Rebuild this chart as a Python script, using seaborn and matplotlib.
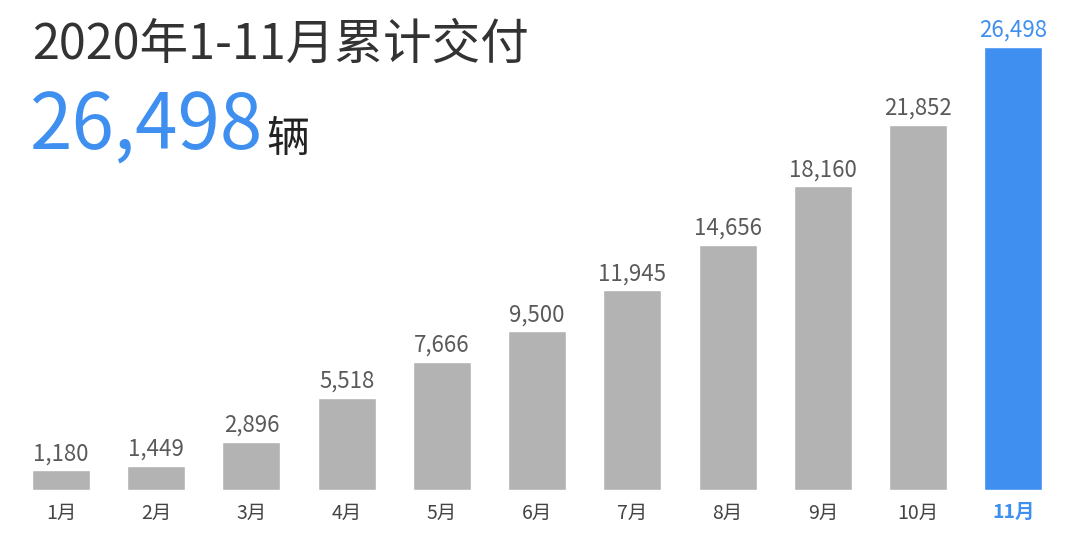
import matplotlib
matplotlib.use('Agg')
import matplotlib.pyplot as plt
import seaborn as sns
import pandas as pd

months = ['1月', '2月', '3月', '4月', '5月', '6月', '7月', '8月', '9月', '10月', '11月']
deliveries = [1180, 1449, 2896, 5518, 7666, 9500, 11945, 14656, 18160, 21852, 26498]
title = '2020年1-11月累计交付'
total_text = '26,498'

sns.set_theme(style='white')
plt.rcParams['font.family'] = ['Noto Sans CJK SC', 'DejaVu Sans']

gray = '#b3b3b3'
blue = '#3f8ff0'
colors = [gray] * (len(months) - 1) + [blue]

df = pd.DataFrame({'month': months, 'value': deliveries})

fig = plt.figure(figsize=(10.8, 5.37), dpi=100)
ax = fig.add_axes([0, 47 / 537, 1, 490 / 537])
sns.barplot(data=df, x='month', y='value', hue='month', palette=colors,
            legend=False, width=0.61, ax=ax, saturation=1)
ax.set_xlim(-0.64, 10.70)
ax.set_ylim(0, 26498 * 490 / 443)
for s in ax.spines.values():
    s.set_visible(False)
ax.set_yticks([])
ax.set_xlabel('')
ax.set_ylabel('')
ax.set_xticks([])

last = len(deliveries) - 1
for i, v in enumerate(deliveries):
    c = blue if i == last else '#5a5a5a'
    ax.text(i, v + 300, f'{v:,}', ha='center', va='bottom', fontsize=16, color=c,
            fontweight='light')
    ax.text(i, -780, months[i], ha='center', va='top', fontsize=14,
            color=blue if i == last else '#444444',
            fontweight='bold' if i == last else 'normal')

fig.text(32 / 1080, 1 - 45 / 537, title, fontsize=35, color='#333333', va='center', ha='left')
t = fig.text(30 / 1080, 1 - 128 / 537, total_text, fontsize=55, color=blue, va='center', ha='left')
fig.canvas.draw()
bb = t.get_window_extent()
fig.text(bb.x1 / 1080 + 0.003, 1 - 140 / 537, '辆', fontsize=31, color='#222222', va='center', ha='left')

fig.savefig('out.png', dpi=100, facecolor='white')
